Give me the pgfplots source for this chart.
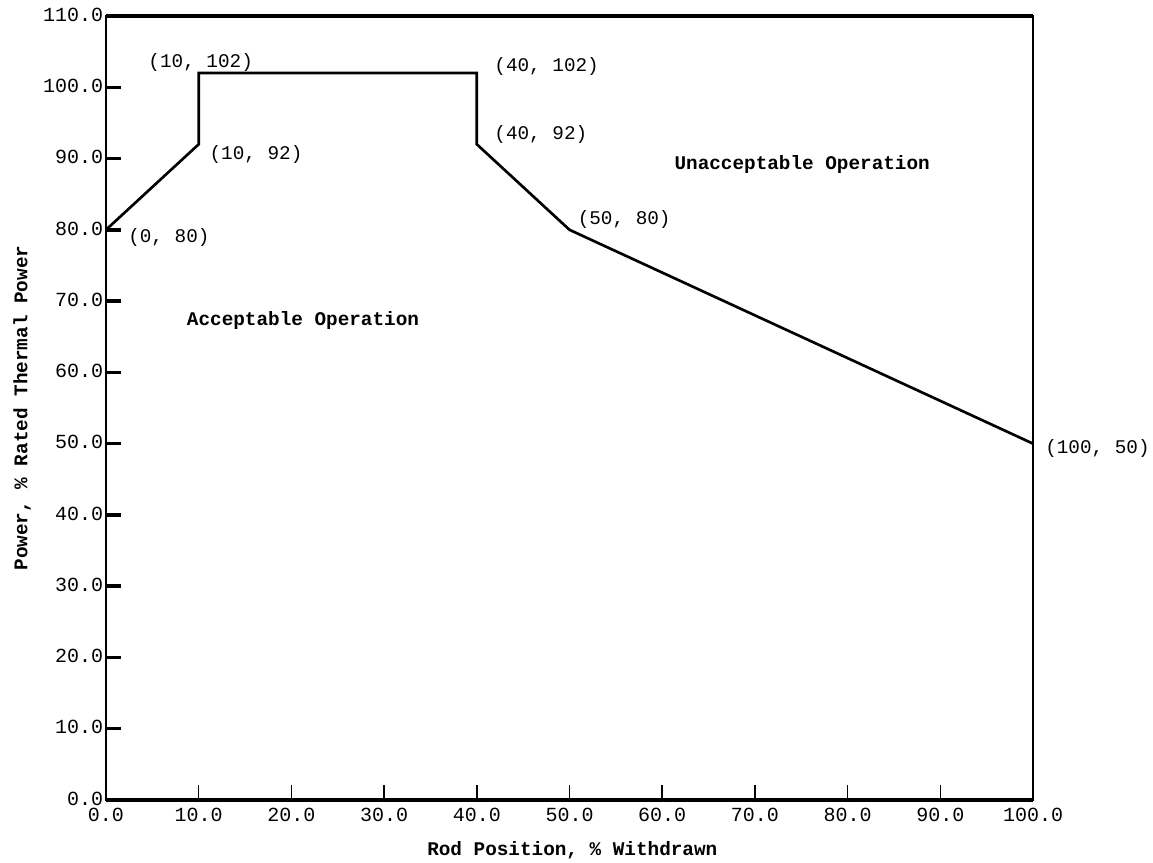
\documentclass[border=0pt]{standalone}
\usepackage{pgfplots}
\pgfplotsset{compat=1.18}
\usepackage{fontspec}
\setmainfont{Liberation Mono}
\begin{document}
\begin{tikzpicture}
\useasboundingbox (-79.5pt,-47.25pt) rectangle (785.25pt,600pt);
\begin{axis}[
  at={(0,0)}, anchor=south west,
  scale only axis, width=695.25pt, height=588pt,
  xmin=0, xmax=100, ymin=0, ymax=110,
  clip=false,
  axis line style={line width=1.5pt},
  xtick={0,10,...,100},
  ytick={0,10,...,110},
  xtick pos=bottom, ytick pos=left,
  xticklabels={0.0,10.0,20.0,30.0,40.0,50.0,60.0,70.0,80.0,90.0,100.0},
  yticklabels={0.0,10.0,20.0,30.0,40.0,50.0,60.0,70.0,80.0,90.0,100.0,110.0},
  tick align=inside,
  x tick style={line width=1.2pt, black},
  y tick style={line width=2.6pt, black},
  major tick length=11pt,
  xticklabel style={font=\fontsize{15}{17}\selectfont, inner sep=2pt, yshift=-4pt},
  yticklabel style={font=\fontsize{15}{17}\selectfont, inner xsep=2pt, yshift=1pt},
  xlabel={Rod Position, \% Withdrawn},
  ylabel={Power, \% Rated Thermal Power},
  xlabel style={font=\bfseries\fontsize{14.5}{17}\selectfont, at={(axis description cs:0.503,-0.0638)}, anchor=center},
  ylabel style={font=\bfseries\fontsize{14.5}{17}\selectfont, at={(axis description cs:-0.0906,0.5)}, anchor=center},
]
\draw[line width=2.6pt] (rel axis cs:0,1) -- (rel axis cs:1,1);
\draw[line width=2.4pt] (rel axis cs:0,0) -- (rel axis cs:1,0);
\addplot[black, line width=2pt, mark=none] coordinates {
  (0,80) (10,92) (10,102) (40,102) (40,92) (50,80) (100,50)
};
\begin{scope}[every node/.style={font=\fontsize{14.5}{17}\selectfont, inner sep=0pt}]
\node[anchor=center, xshift=1.5pt, yshift=8pt] at (axis cs:10,102) {(10, 102)};
\node[anchor=west, xshift=8pt, yshift=-8pt] at (axis cs:10,92) {(10, 92)};
\node[anchor=west, xshift=16.5pt, yshift=-6pt] at (axis cs:0,80) {(0, 80)};
\node[anchor=west, xshift=13pt, yshift=5pt] at (axis cs:40,102) {(40, 102)};
\node[anchor=west, xshift=13pt, yshift=7pt] at (axis cs:40,92) {(40, 92)};
\node[anchor=west, xshift=6pt, yshift=8pt] at (axis cs:50,80) {(50, 80)};
\node[anchor=west, xshift=9pt, yshift=-4pt] at (axis cs:100,50) {(100, 50)};
\node[anchor=center, font=\bfseries\fontsize{14.5}{17}\selectfont] at (axis cs:21.25,67.3) {Acceptable Operation};
\node[anchor=center, font=\bfseries\fontsize{14.5}{17}\selectfont] at (axis cs:75.1,89.1) {Unacceptable Operation};
\end{scope}
\end{axis}
\end{tikzpicture}
\end{document}
